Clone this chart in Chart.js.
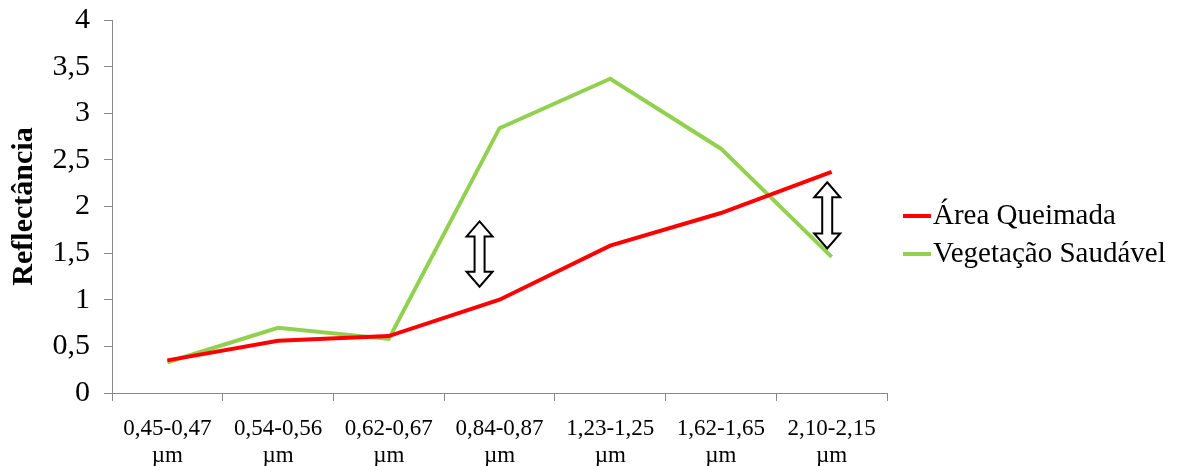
<!DOCTYPE html>
<html lang="pt">
<head>
  <meta charset="UTF-8">
  <title>Reflectância</title>
  <style>
    html, body { margin: 0; padding: 0; background: #fff; }
    #wrap { width: 1183px; height: 466px; }
  </style>
  <script src="https://cdn.jsdelivr.net/npm/chart.js"></script>
</head>
<body>
<div id="wrap"><canvas id="chart" width="1183" height="466"></canvas></div>
<script>
// bandas espectrais
const bands = [
  ["0,45-0,47", "µm"], ["0,54-0,56", "µm"], ["0,62-0,67", "µm"], ["0,84-0,87", "µm"],
  ["1,23-1,25", "µm"], ["1,62-1,65", "µm"], ["2,10-2,15", "µm"]
];
const burned = [0.35, 0.56, 0.61, 1.0, 1.58, 1.93, 2.37];
const healthy = [0.33, 0.70, 0.58, 2.84, 3.37, 2.62, 1.46];
const seriesNames = ["Área Queimada", "Vegetação Saudável"];
// setas duplas: posição no eixo x (índice) e extremos em y
const arrowX = [2.82, 5.96];
const arrowTop = [1.84, 2.26];
const arrowBottom = [1.14, 1.55];

const serif = "'Liberation Serif', 'Times New Roman', serif";

const arrowPlugin = {
  id: 'arrows',
  afterDatasetsDraw(chart) {
    const { ctx, scales: { x, y } } = chart;
    ctx.save();
    ctx.lineWidth = 2;
    ctx.strokeStyle = '#000';
    ctx.fillStyle = '#fff';
    arrowX.forEach((ax, i) => {
      const cx = x.getPixelForValue(ax);
      const t = y.getPixelForValue(arrowTop[i]);
      const b = y.getPixelForValue(arrowBottom[i]);
      const hw = 13, sw = 5, hh = 15;
      ctx.beginPath();
      ctx.moveTo(cx, t);
      ctx.lineTo(cx + hw, t + hh);
      ctx.lineTo(cx + sw, t + hh);
      ctx.lineTo(cx + sw, b - hh);
      ctx.lineTo(cx + hw, b - hh);
      ctx.lineTo(cx, b);
      ctx.lineTo(cx - hw, b - hh);
      ctx.lineTo(cx - sw, b - hh);
      ctx.lineTo(cx - sw, t + hh);
      ctx.lineTo(cx - hw, t + hh);
      ctx.closePath();
      ctx.fill();
      ctx.stroke();
    });
    ctx.restore();
  }
};

const legendPlugin = {
  id: 'sideLegend',
  afterDraw(chart) {
    const { ctx, chartArea } = chart;
    ctx.save();
    ctx.font = "29px " + serif;
    ctx.textBaseline = 'middle';
    ctx.fillStyle = '#000';
    const x0 = chartArea.right + 16;
    const y0 = 216, gap = 38;
    chart.data.datasets.forEach((ds, i) => {
      const yy = y0 + i * gap;
      ctx.strokeStyle = ds.borderColor;
      ctx.lineWidth = 4;
      ctx.beginPath();
      ctx.moveTo(x0, yy);
      ctx.lineTo(x0 + 28, yy);
      ctx.stroke();
      ctx.fillText(ds.label, x0 + 30, yy);
    });
    ctx.restore();
  }
};

new Chart(document.getElementById('chart'), {
  type: 'line',
  data: {
    labels: bands,
    datasets: [
      { label: seriesNames[0], data: burned, borderColor: '#FF0000', borderWidth: 4, pointRadius: 0, tension: 0 },
      { label: seriesNames[1], data: healthy, borderColor: '#92D050', borderWidth: 4, pointRadius: 0, tension: 0 }
    ]
  },
  options: {
    responsive: false,
    animation: false,
    layout: { padding: { top: 20, right: 296, bottom: 0, left: 6 } },
    plugins: { legend: { display: false }, tooltip: { enabled: false } },
    scales: {
      x: {
        offset: true,
        grid: { offset: true, drawOnChartArea: false, color: '#888', tickLength: 8 },
        border: { color: '#888' },
        ticks: { color: '#000', font: { family: serif, size: 23, lineHeight: 1.2 }, padding: 14, maxRotation: 0, autoSkip: false },
        afterFit(s) { s.height = 73; }
      },
      y: {
        min: 0, max: 4,
        grid: { drawOnChartArea: false, color: '#888', tickLength: 8 },
        border: { color: '#888' },
        ticks: {
          stepSize: 0.5, color: '#000', padding: 14,
          font: { family: serif, size: 30 },
          callback: v => String(v).replace('.', ',')
        },
        title: { display: true, text: 'Reflectância', color: '#000', font: { family: serif, size: 30, weight: 'bold' }, padding: 0 },
        afterFit(s) { s.width = 106; s.paddingTop = 0; s.paddingBottom = 0; }
      }
    }
  },
  plugins: [arrowPlugin, legendPlugin]
});
</script>
</body>
</html>
